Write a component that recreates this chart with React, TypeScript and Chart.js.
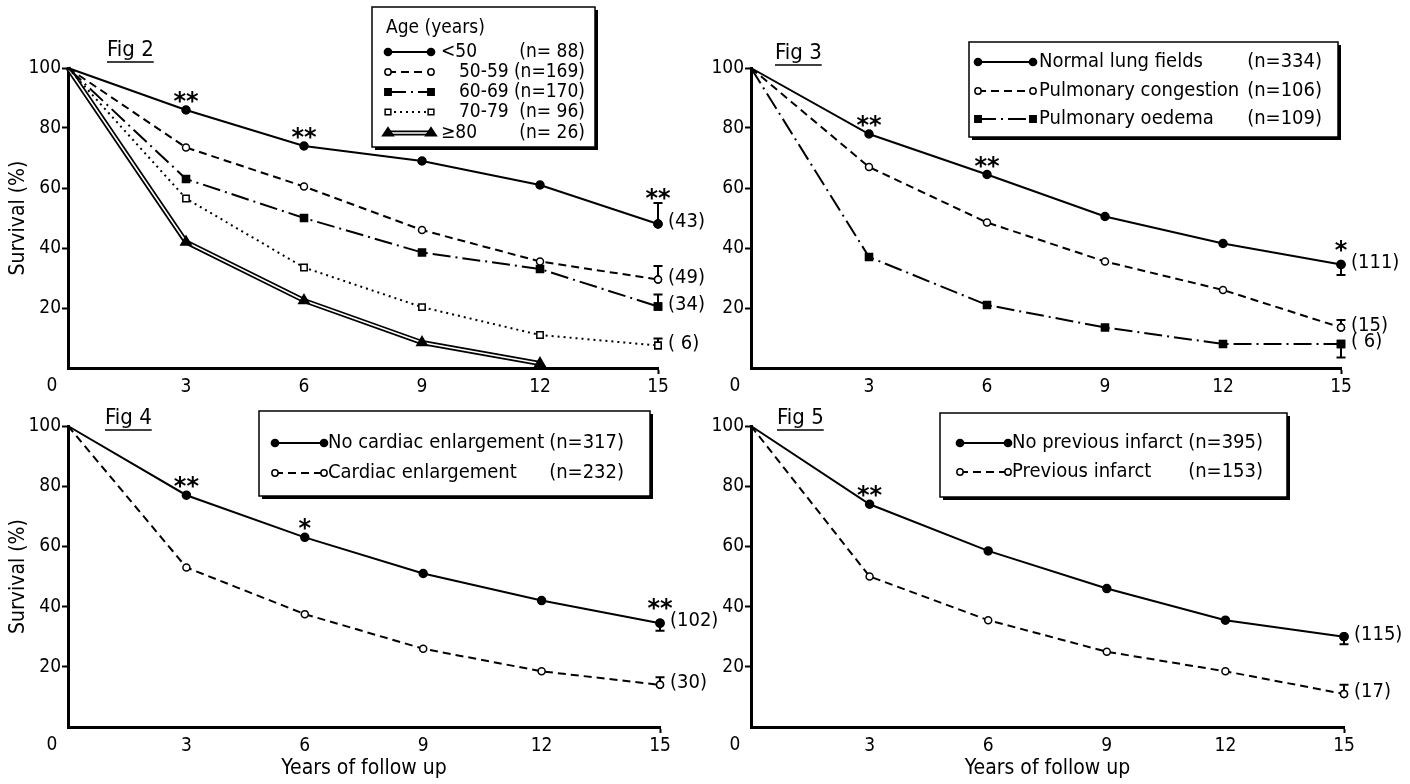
import React, { useEffect, useRef } from 'react';
import { Chart, registerables } from 'chart.js';

Chart.register(...registerables);

const FONT = "'Liberation Sans Narrow', 'DejaVu Sans Condensed', 'Roboto Condensed', sans-serif";
const STAR_FONT = "bold 24px 'DejaVu Sans', sans-serif";

// ---------- shared axes ----------
const years = [0, 3, 6, 9, 12, 15];
const xTickValues = [3, 6, 9, 12, 15];
const yTickValues = [20, 40, 60, 80, 100];
const yTitle = 'Survival (%)';
const xTitle = 'Years of follow up';
const originLabel = '0';

// ---------- Fig 2 ----------
const fig2Title = 'Fig 2';
const fig2LegendTitle = 'Age (years)';
const fig2Labels = ['<50', '50-59', '60-69', '70-79', '≥80'];
const fig2N = ['(n= 88)', '(n=169)', '(n=170)', '(n= 96)', '(n= 26)'];
const fig2Under50 = [100, 86, 74, 69, 61, 48];
const fig2Age50s = [100, 73.5, 60.5, 46, 35.5, 29.5];
const fig2Age60s = [100, 63, 50, 38.5, 33, 20.5];
const fig2Age70s = [100, 56.5, 33.5, 20.3, 11, 7.5];
const fig2Over80 = [100, 42, 22.5, 8.5, 1.5, null];
const fig2ErrorEnds = [55, 34, 24.5, 9.8, null];
const fig2Counts = ['(43)', '(49)', '(34)', '( 6)', ''];
const fig2Stars = ['', '**', '**', '', '', '**'];

// ---------- Fig 3 ----------
const fig3Title = 'Fig 3';
const fig3Labels = ['Normal lung fields', 'Pulmonary congestion', 'Pulmonary oedema'];
const fig3N = ['(n=334)', '(n=106)', '(n=109)'];
const fig3Normal = [100, 78, 64.5, 50.5, 41.5, 34.5];
const fig3Congestion = [100, 67, 48.5, 35.5, 26, 13.5];
const fig3Oedema = [100, 37, 21, 13.5, 8, 8];
const fig3ErrorEnds = [31, 16, 3.5];
const fig3Counts = ['(111)', '(15)', '( 6)'];
const fig3Stars = ['', '**', '**', '', '', '*'];

// ---------- Fig 4 ----------
const fig4Title = 'Fig 4';
const fig4Labels = ['No cardiac enlargement', 'Cardiac enlargement'];
const fig4N = ['(n=317)', '(n=232)'];
const fig4NoEnlargement = [100, 77, 63, 51, 42, 34.5];
const fig4Enlargement = [100, 53, 37.5, 26, 18.5, 14];
const fig4ErrorEnds = [32, 16.5];
const fig4Counts = ['(102)', '(30)'];
const fig4Stars = ['', '**', '*', '', '', '**'];

// ---------- Fig 5 ----------
const fig5Title = 'Fig 5';
const fig5Labels = ['No previous infarct', 'Previous infarct'];
const fig5N = ['(n=395)', '(n=153)'];
const fig5NoPrevious = [100, 74, 58.5, 46, 35.5, 30];
const fig5Previous = [100, 50, 35.5, 25, 18.5, 11];
const fig5ErrorEnds = [27.5, 14];
const fig5Counts = ['(115)', '(17)'];
const fig5Stars = ['', '**', '', '', '', ''];

// ---------- styles ----------
type Kind = 'solid' | 'dashed' | 'dashDot' | 'dotted' | 'double';
type PointKind = 'circle' | 'rect' | 'triangle';

const KIND_STYLE: Record<Kind, { dash: number[]; point: PointKind; r: number; fill: string }> = {
  solid: { dash: [], point: 'circle', r: 4, fill: '#000' },
  dashed: { dash: [8, 5], point: 'circle', r: 3.5, fill: '#fff' },
  dashDot: { dash: [18, 5, 2, 5], point: 'rect', r: 5, fill: '#000' },
  dotted: { dash: [2, 4], point: 'rect', r: 4.5, fill: '#fff' },
  double: { dash: [], point: 'triangle', r: 6, fill: '#000' },
};

interface Series {
  values: (number | null)[];
  kind: Kind;
  label: string;
  n: string;
  errEnd: number | null;
  count: string;
  stars?: string[];
}

interface Panel {
  key: string;
  left: number;
  top: number;
  width: number;
  height: number;
  area: { l: number; r: number; t: number; b: number };
  title: string;
  titlePos: [number, number];
  yTitle: boolean;
  xTitle: boolean;
  legend: {
    box: [number, number, number, number];
    fontSize: number;
    heading?: string;
    headingPos?: [number, number];
    rows: number[];
    sample: [number, number];
    labelX: number;
    indents?: number[];
    nRight: number;
  };
  series: Series[];
}

function mk(values: (number | null)[], kind: Kind, labels: string[], ns: string[], errs: (number | null)[], counts: string[], i: number, stars?: string[]): Series {
  return { values, kind, label: labels[i], n: ns[i], errEnd: errs[i], count: counts[i], stars };
}

const PANELS: Panel[] = [
  {
    key: 'fig2', left: 0, top: 0, width: 730, height: 400,
    area: { l: 68, r: 658, t: 68, b: 368 },
    title: fig2Title, titlePos: [107, 50], yTitle: true, xTitle: false,
    legend: {
      box: [372, 7, 595, 147], fontSize: 19, heading: fig2LegendTitle, headingPos: [386, 28],
      rows: [52, 72, 92, 112, 133], sample: [388, 431], labelX: 441,
      indents: [0, 18, 18, 18, 0], nRight: 585,
    },
    series: [
      mk(fig2Under50, 'solid', fig2Labels, fig2N, fig2ErrorEnds, fig2Counts, 0, fig2Stars),
      mk(fig2Age50s, 'dashed', fig2Labels, fig2N, fig2ErrorEnds, fig2Counts, 1),
      mk(fig2Age60s, 'dashDot', fig2Labels, fig2N, fig2ErrorEnds, fig2Counts, 2),
      mk(fig2Age70s, 'dotted', fig2Labels, fig2N, fig2ErrorEnds, fig2Counts, 3),
      mk(fig2Over80, 'double', fig2Labels, fig2N, fig2ErrorEnds, fig2Counts, 4),
    ],
  },
  {
    key: 'fig3', left: 705, top: 0, width: 705, height: 400,
    area: { l: 751, r: 1341, t: 68, b: 368 },
    title: fig3Title, titlePos: [775, 53], yTitle: false, xTitle: false,
    legend: {
      box: [969, 42, 1338, 137], fontSize: 20, rows: [62, 91, 119], sample: [978, 1033], labelX: 1039, nRight: 1322,
    },
    series: [
      mk(fig3Normal, 'solid', fig3Labels, fig3N, fig3ErrorEnds, fig3Counts, 0, fig3Stars),
      mk(fig3Congestion, 'dashed', fig3Labels, fig3N, fig3ErrorEnds, fig3Counts, 1),
      mk(fig3Oedema, 'dashDot', fig3Labels, fig3N, fig3ErrorEnds, fig3Counts, 2),
    ],
  },
  {
    key: 'fig4', left: 0, top: 400, width: 730, height: 384,
    area: { l: 68, r: 660, t: 426, b: 727 },
    title: fig4Title, titlePos: [105, 418], yTitle: true, xTitle: true,
    legend: {
      box: [259, 411, 650, 496], fontSize: 20, rows: [443, 473], sample: [275, 324], labelX: 328, nRight: 624,
    },
    series: [
      mk(fig4NoEnlargement, 'solid', fig4Labels, fig4N, fig4ErrorEnds, fig4Counts, 0, fig4Stars),
      mk(fig4Enlargement, 'dashed', fig4Labels, fig4N, fig4ErrorEnds, fig4Counts, 1),
    ],
  },
  {
    key: 'fig5', left: 705, top: 400, width: 705, height: 384,
    area: { l: 751, r: 1344, t: 426, b: 727 },
    title: fig5Title, titlePos: [777, 418], yTitle: false, xTitle: true,
    legend: {
      box: [940, 413, 1287, 497], fontSize: 20, rows: [443, 472], sample: [960, 1008], labelX: 1012, nRight: 1263,
    },
    series: [
      mk(fig5NoPrevious, 'solid', fig5Labels, fig5N, fig5ErrorEnds, fig5Counts, 0, fig5Stars),
      mk(fig5Previous, 'dashed', fig5Labels, fig5N, fig5ErrorEnds, fig5Counts, 1),
    ],
  },
];

// ---------- drawing helpers ----------
function drawMarker(ctx: CanvasRenderingContext2D, kind: PointKind, x: number, y: number, r: number, fill: string) {
  ctx.save();
  ctx.setLineDash([]);
  ctx.lineWidth = 1.5;
  ctx.strokeStyle = '#000';
  ctx.fillStyle = fill;
  ctx.beginPath();
  if (kind === 'circle') {
    ctx.arc(x, y, r, 0, Math.PI * 2);
  } else if (kind === 'rect') {
    const s = r * Math.SQRT1_2;
    ctx.rect(x - s, y - s, 2 * s, 2 * s);
  } else {
    const hw = r * 1.0;
    ctx.moveTo(x, y - r);
    ctx.lineTo(x + hw, y + r * 0.5);
    ctx.lineTo(x - hw, y + r * 0.5);
    ctx.closePath();
  }
  ctx.fill();
  ctx.stroke();
  ctx.restore();
}

function drawSampleLine(ctx: CanvasRenderingContext2D, kind: Kind, a: number, b: number, y: number) {
  const st = KIND_STYLE[kind];
  ctx.save();
  ctx.strokeStyle = '#000';
  if (kind === 'double') {
    ctx.setLineDash([]);
    ctx.lineWidth = 5;
    ctx.beginPath(); ctx.moveTo(a, y); ctx.lineTo(b, y); ctx.stroke();
    ctx.strokeStyle = '#fff';
    ctx.lineWidth = 1.6;
    ctx.beginPath(); ctx.moveTo(a, y); ctx.lineTo(b, y); ctx.stroke();
  } else {
    ctx.setLineDash(st.dash);
    ctx.lineWidth = 2;
    ctx.beginPath(); ctx.moveTo(a, y); ctx.lineTo(b, y); ctx.stroke();
  }
  ctx.restore();
  drawMarker(ctx, st.point, a, y, st.r * 0.9, st.fill);
  drawMarker(ctx, st.point, b, y, st.r * 0.9, st.fill);
}

function decorPlugin(p: Panel) {
  const ox = p.left;
  const oy = p.top;
  return {
    id: 'decor_' + p.key,
    afterDatasetsDraw(chart: any) {
      const ctx: CanvasRenderingContext2D = chart.ctx;
      const xs = chart.scales.x;
      const ys = chart.scales.y;
      ctx.save();
      p.series.forEach((s) => {
        const st = KIND_STYLE[s.kind];
        const last = s.values.length - 1;
        const v = s.values[last];
        if (v == null) return;
        const px = xs.getPixelForValue(years[last]);
        const py = ys.getPixelForValue(v);
        let errAbove = false;
        let capY = py;
        if (s.errEnd != null) {
          const ey = ys.getPixelForValue(s.errEnd);
          errAbove = ey < py;
          capY = ey;
          ctx.setLineDash([]);
          ctx.strokeStyle = '#000';
          ctx.lineWidth = 2;
          ctx.beginPath();
          ctx.moveTo(px, py);
          ctx.lineTo(px, ey);
          ctx.moveTo(px - 4.5, ey);
          ctx.lineTo(px + 4.5, ey);
          ctx.stroke();
          drawMarker(ctx, st.point, px, py, st.r, st.fill);
        }
        if (s.count) {
          ctx.fillStyle = '#000';
          ctx.font = `20px ${FONT}`;
          ctx.textAlign = 'left';
          ctx.textBaseline = 'middle';
          ctx.fillText(s.count, px + 10, py - 2);
        }
        if (s.stars) {
          s.stars.forEach((t, i) => {
            const sv = s.values[i];
            if (!t || sv == null) return;
            const sx = xs.getPixelForValue(years[i]);
            const sy = ys.getPixelForValue(sv);
            let base = sy - 1;
            if (i === last && s.errEnd != null) base = errAbove ? capY + 3 : sy - 7;
            ctx.fillStyle = '#000';
            ctx.font = STAR_FONT;
            ctx.textAlign = 'center';
            ctx.textBaseline = 'alphabetic';
            ctx.fillText(t, sx, base);
          });
        }
      });
      ctx.restore();
    },
    afterDraw(chart: any) {
      const ctx: CanvasRenderingContext2D = chart.ctx;
      const area = chart.chartArea;
      ctx.save();
      ctx.fillStyle = '#000';
      // origin label
      ctx.font = `19px ${FONT}`;
      ctx.textAlign = 'center';
      ctx.textBaseline = 'middle';
      ctx.fillText(originLabel, area.left - 16, area.bottom + 18);

      // figure title (underlined)
      ctx.font = `22px ${FONT}`;
      ctx.textAlign = 'left';
      ctx.textBaseline = 'middle';
      const tx = p.titlePos[0] - ox;
      const ty = p.titlePos[1] - oy;
      ctx.fillText(p.title, tx, ty);
      const tw = ctx.measureText(p.title).width;
      ctx.strokeStyle = '#000';
      ctx.lineWidth = 1.5;
      ctx.beginPath();
      ctx.moveTo(tx, ty + 12);
      ctx.lineTo(tx + tw, ty + 12);
      ctx.stroke();

      // legend box
      const L = p.legend;
      const [x1, y1, x2, y2] = L.box;
      const bx = x1 - ox, by = y1 - oy, bw = x2 - x1, bh = y2 - y1;
      ctx.fillStyle = '#000';
      ctx.fillRect(bx + 3, by + 3, bw, bh);
      ctx.fillStyle = '#fff';
      ctx.fillRect(bx, by, bw, bh);
      ctx.strokeStyle = '#000';
      ctx.lineWidth = 1.5;
      ctx.strokeRect(bx, by, bw, bh);

      const lf = `${L.fontSize}px ${FONT}`;
      ctx.fillStyle = '#000';
      ctx.font = lf;
      ctx.textBaseline = 'middle';
      if (L.heading && L.headingPos) {
        ctx.textAlign = 'left';
        ctx.fillText(L.heading, L.headingPos[0] - ox, L.headingPos[1] - oy);
      }
      p.series.forEach((s, i) => {
        const ry = L.rows[i] - oy;
        drawSampleLine(ctx, s.kind, L.sample[0] - ox, L.sample[1] - ox, ry);
        ctx.fillStyle = '#000';
        ctx.font = lf;
        ctx.textBaseline = 'middle';
        ctx.textAlign = 'left';
        ctx.fillText(s.label, L.labelX - ox + (L.indents ? L.indents[i] : 0), ry);
        ctx.textAlign = 'right';
        ctx.fillText(s.n, L.nRight - ox, ry);
      });
      ctx.restore();
    },
  };
}

function buildDatasets(series: Series[]) {
  const out: any[] = [];
  series.forEach((s) => {
    const st = KIND_STYLE[s.kind];
    const data = s.values.map((v, i) => ({ x: years[i], y: v }));
    const radii = s.values.map((_, i) => (i === 0 ? 0 : st.r));
    const common = {
      label: s.label,
      data,
      clip: false,
      tension: 0,
      pointStyle: st.point,
      pointRadius: radii,
      pointHoverRadius: radii,
      pointBackgroundColor: st.fill,
      pointBorderColor: '#000',
      pointBorderWidth: 1.5,
      fill: false,
    };
    if (s.kind === 'double') {
      out.push({ ...common, borderColor: '#000', borderWidth: 5, pointRadius: 0, pointHoverRadius: 0, order: 2 });
      out.push({ ...common, borderColor: '#fff', borderWidth: 1.6, order: 1 });
    } else {
      out.push({ ...common, borderColor: '#000', borderWidth: 2, borderDash: st.dash, order: 0 });
    }
  });
  return out;
}

function buildConfig(p: Panel): any {
  const yWidth = p.area.l - p.left;
  const xHeight = p.top + p.height - p.area.b;
  const font = { family: FONT, size: 19 };
  const titleFont = { family: FONT, size: 21 };
  return {
    type: 'line',
    data: { datasets: buildDatasets(p.series) },
    options: {
      animation: false,
      responsive: false,
      maintainAspectRatio: false,
      events: [],
      layout: {
        padding: { left: 0, top: p.area.t - p.top, right: p.left + p.width - p.area.r, bottom: 0 },
      },
      plugins: { legend: { display: false }, tooltip: { enabled: false } },
      scales: {
        x: {
          type: 'linear',
          min: 0,
          max: 15,
          afterBuildTicks: (s: any) => { s.ticks = xTickValues.map((v) => ({ value: v })); },
          afterFit: (s: any) => { s.height = xHeight; s.paddingLeft = 0; s.paddingRight = 0; },
          border: { display: true, color: '#000', width: 3 },
          grid: {
            drawOnChartArea: false,
            drawTicks: true,
            tickLength: 6,
            tickWidth: 2,
            color: (c: any) => (c.tick && c.tick.value === 15 ? '#000' : 'rgba(0,0,0,0)'),
          },
          ticks: { padding: 2, maxRotation: 0, autoSkip: false, color: '#000', font },
          title: { display: p.xTitle, text: xTitle, color: '#000', font: titleFont, padding: { top: 0, bottom: 3 } },
        },
        y: {
          type: 'linear',
          min: 0,
          max: 100,
          afterBuildTicks: (s: any) => { s.ticks = yTickValues.map((v) => ({ value: v })); },
          afterFit: (s: any) => { s.width = yWidth; s.paddingTop = 0; s.paddingBottom = 0; },
          border: { display: true, color: '#000', width: 3 },
          grid: { drawOnChartArea: false, drawTicks: true, tickLength: 6, tickWidth: 2, color: '#000' },
          ticks: { padding: 1, color: '#000', font },
          title: { display: p.yTitle, text: yTitle, color: '#000', font: titleFont, padding: { top: 6, bottom: 0 } },
        },
      },
    },
    plugins: [decorPlugin(p)],
  };
}

function PanelChart({ panel }: { panel: Panel }) {
  const ref = useRef<HTMLCanvasElement>(null);
  useEffect(() => {
    if (!ref.current) return;
    const chart = new Chart(ref.current, buildConfig(panel));
    return () => chart.destroy();
  }, [panel]);
  return (
    <canvas
      ref={ref}
      width={panel.width}
      height={panel.height}
      style={{ position: 'absolute', left: panel.left, top: panel.top, width: panel.width, height: panel.height, display: 'block' }}
    />
  );
}

export default function App() {
  return (
    <div style={{ position: 'fixed', left: 0, top: 0, width: 1410, height: 784, background: '#fff', overflow: 'hidden' }}>
      {PANELS.map((p) => (
        <PanelChart key={p.key} panel={p} />
      ))}
    </div>
  );
}
